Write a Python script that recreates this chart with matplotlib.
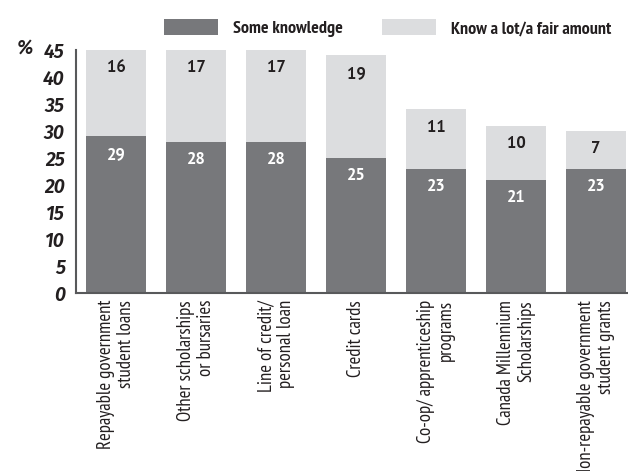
import matplotlib
matplotlib.use("Agg")
import matplotlib.pyplot as plt

categories = [
    "Repayable government\nstudent loans",
    "Other scholarships\nor bursaries",
    "Line of credit/\npersonal loan",
    "Credit cards",
    "Co-op/ apprenticeship\nprograms",
    "Canada Millennium\nScholarships",
    "Non-repayable government\nstudent grants",
]
some_knowledge = [29, 28, 28, 25, 23, 21, 23]
know_a_lot = [16, 17, 17, 19, 11, 10, 7]
yticks = [0, 5, 10, 15, 20, 25, 30, 35, 40, 45]
series_names = ["Some knowledge", "Know a lot/a fair amount"]

NARROW = ["PT Sans Narrow", "DejaVu Sans"]
TICKF = ["Fira Sans", "DejaVu Sans"]
VALF = ["PT Sans", "DejaVu Sans"]
plt.rcParams["font.family"] = NARROW

DARK = "#77787b"
LIGHT = "#dcdddf"
TXT = "#231f20"
SPINE = "#58595b"

fig = plt.figure(figsize=(6.28, 4.71), dpi=100)
ax = fig.add_axes([76/628, 1-293/471, 1-76/628, 243/471])

x = list(range(len(categories)))
b1 = ax.bar(x, some_knowledge, width=0.75, color=DARK, label=series_names[0], zorder=2)
b2 = ax.bar(x, know_a_lot, width=0.75, bottom=some_knowledge, color=LIGHT,
            label=series_names[1], zorder=2)

off = 3.3
for i in x:
    ax.text(i, some_knowledge[i] - off, str(some_knowledge[i]), ha="center", va="center",
            color="white", fontsize=12, fontweight="bold", family=VALF)
    ax.text(i, some_knowledge[i] + know_a_lot[i] - off, str(know_a_lot[i]), ha="center",
            va="center", color=TXT, fontsize=12, fontweight="bold", family=VALF)

ax.set_xlim(-0.5, 6.4)
ax.set_ylim(0, 45)
ax.set_yticks(yticks)
ax.set_yticklabels([str(v) for v in yticks], fontsize=14, fontweight="semibold",
                   fontstyle="italic", color=TXT, family=TICKF)
ax.set_xticks(x)
ax.set_xticklabels(categories, rotation=90, ha="center", va="top", fontsize=13.5,
                   color=TXT, multialignment="right", linespacing=1.15)
ax.tick_params(axis="both", length=0)
ax.tick_params(axis="y", pad=8)
ax.tick_params(axis="x", pad=5)
for s in ["top", "right"]:
    ax.spines[s].set_visible(False)
for s in ["left", "bottom"]:
    ax.spines[s].set_color(SPINE)
    ax.spines[s].set_linewidth(1.5)

fig.text(33/628, 1-48/471, "%", ha="right", va="center", fontsize=14,
         fontweight="semibold", fontstyle="italic", color=TXT, family=TICKF)

leg = fig.legend(handles=[b1, b2], labels=series_names, loc="center left",
                 bbox_to_anchor=(164/628, 1-28/471), ncol=2, frameon=False,
                 handlelength=3.0, handleheight=1.0, handletextpad=0.8,
                 columnspacing=2.2, borderpad=0, borderaxespad=0,
                 prop={"family": NARROW, "weight": "bold", "size": 13})
for t in leg.get_texts():
    t.set_color(TXT)

fig.savefig("out.png", dpi=100)
